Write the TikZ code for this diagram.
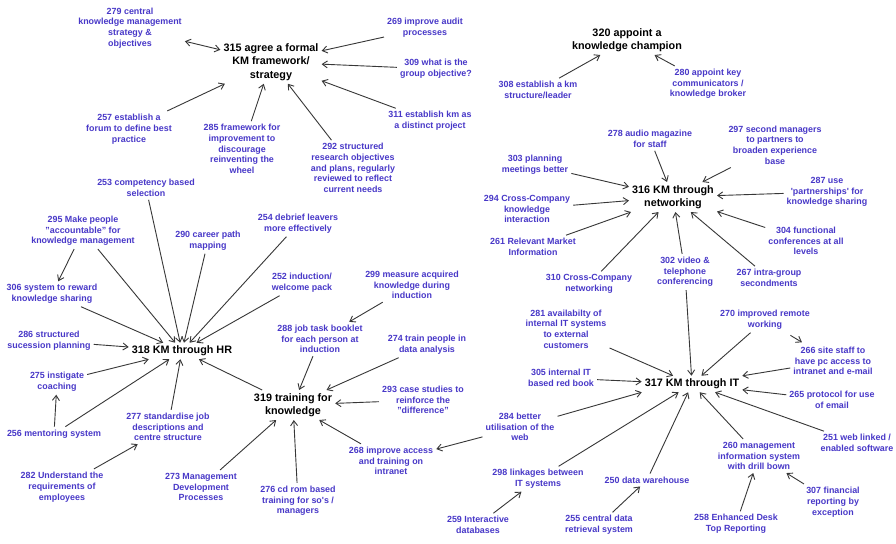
\documentclass[tikz,border=0pt]{standalone}
\usepackage{fontspec}
\setmainfont{Liberation Sans}
\usetikzlibrary{arrows.meta}
\definecolor{lblue}{RGB}{72,56,200}
\definecolor{arrowgray}{RGB}{55,55,55}
\begin{document}
\begin{tikzpicture}[x=1pt,y=-1pt,
  hub/.style={font=\fontsize{10.8}{13.5}\selectfont\bfseries, text=black, align=center, inner sep=3pt},
  lbl/.style={font=\fontsize{8.9}{10.7}\selectfont\bfseries, text=lblue, align=center, inner sep=3pt},
  con/.style={draw=arrowgray, line width=0.9pt, -{Straight Barb[length=5pt,width=7pt]}},
  bicon/.style={draw=arrowgray, line width=0.9pt, {Straight Barb[length=5pt,width=7pt]}-{Straight Barb[length=5pt,width=7pt]}}]
\fill[white] (0,0) rectangle (896,543);
\useasboundingbox (0,0) rectangle (896,543);

% hubs
\node[hub] (n315) at (271,62) {315 agree a formal\\KM framework/\\strategy};
\node[hub] (n320) at (627,40) {320 appoint a\\knowledge champion};
\node[hub] (n316) at (673,197) {316 KM through\\networking};
\node[hub] (n317) at (692,384) {317 KM through IT};
\node[hub] (n318) at (182,351) {318 KM through HR};
\node[hub] (n319) at (293,405) {319 training for\\knowledge};

% labels
\node[lbl] (n279) at (130,28) {279 central\\knowledge management\\strategy \&\\objectives};
\node[lbl] (n269) at (425,28) {269 improve audit\\processes};
\node[lbl] (n309) at (436,69) {309 what is the\\group objective?};
\node[lbl] (n311) at (430,121) {311 establish km as\\a distinct project};
\node[lbl] (n257) at (129,129) {257 establish a\\forum to define best\\practice};
\node[lbl] (n285) at (242,149) {285 framework for\\improvement to\\discourage\\reinventing the\\wheel};
\node[lbl] (n292) at (353,168) {292 structured\\research objectives\\and plans, regularly\\reviewed to reflect\\current needs};
\node[lbl] (n308) at (538,90) {308 establish a km\\structure/leader};
\node[lbl] (n280) at (708,84) {280 appoint key\\communicators /\\knowledge broker};
\node[lbl] (n278) at (650,139) {278 audio magazine\\for staff};
\node[lbl] (n297) at (775,145) {297 second managers\\to partners to\\broaden experience\\base};
\node[lbl] (n303) at (535,165) {303 planning\\meetings better};
\node[lbl] (n287) at (827,192) {287 use\\\textquotesingle partnerships\textquotesingle{} for\\knowledge sharing};
\node[lbl] (n294) at (527,209) {294 Cross-Company\\knowledge\\interaction};
\node[lbl] (n261) at (533,247) {261 Relevant Market\\Information};
\node[lbl] (n304) at (806,241) {304 functional\\conferences at all\\levels};
\node[lbl] (n310) at (589,284) {310 Cross-Company\\networking};
\node[lbl] (n302) at (685,272) {302 video \&\\telephone\\conferencing};
\node[lbl] (n267) at (769,278) {267 intra-group\\secondments};
\node[lbl] (n253) at (146,188) {253 competency based\\selection};
\node[lbl] (n295) at (83,231) {295 Make people\\"accountable" for\\knowledge management};
\node[lbl] (n290) at (208,241) {290 career path\\mapping};
\node[lbl] (n254) at (298,224) {254 debrief leavers\\more effectively};
\node[lbl] (n252) at (302,283) {252 induction/\\welcome pack};
\node[lbl] (n299) at (412,285) {299 measure acquired\\knowledge during\\induction};
\node[lbl] (n306) at (52,294) {306 system to reward\\knowledge sharing};
\node[lbl] (n288) at (320,339) {288 job task booklet\\for each person at\\induction};
\node[lbl] (n274) at (427,345) {274 train people in\\data analysis};
\node[lbl] (n286) at (49,341) {286 structured\\sucession planning};
\node[lbl] (n275) at (57,382) {275 instigate\\coaching};
\node[lbl] (n293) at (423,400) {293 case studies to\\reinforce the\\"difference"};
\node[lbl] (n256) at (54,434) {256 mentoring system};
\node[lbl] (n277) at (168,427) {277 standardise job\\descriptions and\\centre structure};
\node[lbl] (n282) at (62,487) {282 Understand the\\requirements of\\employees};
\node[lbl] (n273) at (201,487) {273 Management\\Development\\Processes};
\node[lbl] (n276) at (298,501) {276 cd rom based\\training for so\textquotesingle s /\\managers};
\node[lbl] (n268) at (391,461) {268 improve access\\and training on\\intranet};
\node[lbl] (n284) at (520,427) {284 better\\utilisation of the\\web};
\node[lbl] (n281) at (566,329) {281 availabilty of\\internal IT systems\\to external\\customers};
\node[lbl] (n305) at (561,378) {305 internal IT\\based red book};
\node[lbl] (n270) at (765,320) {270 improved remote\\working};
\node[lbl] (n266) at (833,361) {266 site staff to\\have pc access to\\intranet and e-mail};
\node[lbl] (n265) at (832,400) {265 protocol for use\\of email};
\node[lbl] (n251) at (857,443) {251 web linked /\\enabled software};
\node[lbl] (n260) at (759,456) {260 management\\information system\\with drill bown};
\node[lbl] (n298) at (538,479) {298 linkages between\\IT systems};
\node[lbl] (n250) at (647,480) {250 data warehouse};
\node[lbl] (n307) at (833,502) {307 financial\\reporting by\\exception};
\node[lbl] (n259) at (478,525) {259 Interactive\\databases};
\node[lbl] (n255) at (599,525) {255 central data\\retrieval system};
\node[lbl] (n258) at (736,524) {258 Enhanced Desk\\Top Reporting};

% connectors: 315
\draw[bicon] (n279) -- (n315);
\foreach \s in {269,309,311,257,285,292} \draw[con] (n\s) -- (n315);
% 320
\foreach \s in {308,280} \draw[con] (n\s) -- (n320);
% 316
\foreach \s in {278,297,303,294,261,287,304,310,302,267} \draw[con] (n\s) -- (n316);
% 317
\foreach \s in {302,281,305,270,266,265,251,260,250,298} \draw[con] (n\s) -- (n317);
\draw[con] (n284) -- (n317.south west);
\draw[con, shorten <=5pt, shorten >=3pt] (n270) -- (n266);
\draw[con] (n284) -- (n268);
\draw[con] (n259) -- (n298);
\draw[con] (n255) -- (n250);
\draw[con] (n258) -- (n260);
\draw[con] (n307) -- (n260);
% 318
\foreach \s in {253,295,306,290,254,252,286,275,256,277,319} \draw[con] (n\s) -- (n318);
\draw[con] (n295) -- (n306);
\draw[con] (n256) -- (n275);
\draw[con] (n282) -- (n277);
% 319
\draw[con] (n299) -- (n288);
\foreach \s in {288,274,293,268,273,276} \draw[con] (n\s) -- (n319);
\end{tikzpicture}
\end{document}
